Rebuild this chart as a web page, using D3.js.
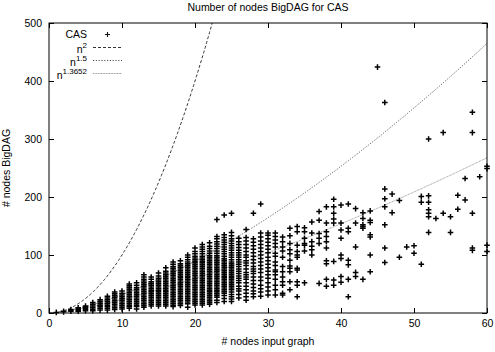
<!DOCTYPE html>
<html>
<head>
<meta charset="utf-8">
<script src="https://cdn.jsdelivr.net/npm/d3@7"></script>
<style>
  body { margin: 0; background: #fff; }
  svg text { font-family: "Liberation Sans", Arial, sans-serif; font-size: 10.5px; fill: #000; }
</style>
</head>
<body>
<div id="chart"></div>
<script>
// CAS measurements: [input graph nodes, [BigDAG node counts]]
const casColumns = [
    [1, [1]],
    [2, [2, 3]],
    [3, [3, 5, 6]],
    [4, [3, 5, 7, 9]],
    [5, [4, 6, 8, 10, 12]],
    [6, [4, 6, 9, 12, 15, 18]],
    [7, [5, 8, 11, 14, 17, 20, 23]],
    [8, [5, 8, 11, 14, 17, 20, 23, 26, 29]],
    [9, [6, 9, 12, 15, 18, 21, 24, 27, 30, 33, 36]],
    [10, [7, 10, 13, 16, 19, 22, 25, 28, 31, 34, 38]],
    [11, [8, 11, 14, 17, 20, 23, 26, 29, 32, 35, 38, 41, 44, 47, 50]],
    [12, [7, 11, 14, 17, 20, 23, 26, 29, 32, 35, 38, 41, 44, 48, 52]],
    [13, [10, 13, 16, 19, 22, 25, 28, 31, 34, 37, 40, 43, 46, 49, 52, 55, 58, 62, 66]],
    [14, [12, 15, 18, 21, 24, 27, 30, 33, 36, 39, 42, 45, 48, 51, 54, 58, 62]],
    [15, [12, 15, 18, 21, 24, 27, 30, 33, 36, 39, 42, 45, 48, 51, 54, 57, 60, 64, 69]],
    [16, [12, 15, 18, 21, 24, 27, 30, 33, 36, 39, 42, 45, 48, 51, 54, 57, 60, 63, 66, 69, 72, 78]],
    [17, [11, 14, 17, 20, 23, 26, 29, 32, 35, 38, 41, 44, 47, 50, 53, 56, 59, 62, 65, 68, 71, 74, 77, 80, 84, 88]],
    [18, [13, 16, 19, 22, 25, 28, 31, 34, 37, 40, 43, 46, 49, 52, 55, 58, 61, 64, 67, 70, 73, 76, 79, 82, 85, 90]],
    [19, [10, 16, 19, 22, 25, 28, 31, 34, 37, 40, 43, 46, 49, 52, 55, 58, 61, 64, 67, 70, 73, 76, 79, 82, 85, 88, 92, 96, 100]],
    [20, [14, 17, 20, 23, 26, 29, 32, 35, 38, 41, 44, 47, 50, 53, 56, 59, 62, 65, 68, 71, 74, 77, 80, 83, 86, 89, 92, 95, 98, 102, 106, 112]],
    [21, [14, 17, 20, 23, 26, 29, 32, 35, 38, 41, 44, 47, 50, 53, 56, 59, 62, 65, 68, 71, 74, 77, 80, 83, 86, 89, 92, 95, 98, 102, 106, 110, 114, 118]],
    [22, [15, 18, 21, 24, 27, 30, 33, 36, 39, 42, 45, 48, 51, 54, 57, 60, 63, 66, 69, 72, 75, 78, 81, 84, 87, 90, 93, 96, 99, 103, 107, 111, 115, 121]],
    [23, [18, 22, 27, 30, 33, 36, 39, 42, 45, 48, 51, 54, 57, 60, 63, 66, 69, 72, 75, 78, 81, 84, 87, 90, 93, 96, 99, 103, 107, 111, 115, 119, 123, 128, 132, 161]],
    [24, [20, 25, 30, 34, 37, 40, 43, 46, 49, 52, 55, 58, 61, 64, 67, 70, 73, 76, 79, 82, 85, 88, 91, 94, 98, 102, 106, 110, 114, 118, 122, 126, 130, 135, 169]],
    [25, [20, 24, 28, 32, 36, 40, 43, 46, 49, 52, 55, 58, 61, 64, 67, 70, 73, 76, 79, 82, 85, 88, 92, 96, 100, 104, 108, 112, 116, 120, 124, 128, 133, 139, 172]],
    [26, [26, 32, 38, 42, 46, 52, 56, 60, 64, 68, 72, 76, 80, 84, 88, 92, 96, 100, 104, 108, 113, 118, 123, 129]],
    [27, [22, 28, 34, 40, 46, 52, 58, 62, 66, 70, 76, 82, 86, 90, 96, 100, 106, 112, 118, 124, 130, 144]],
    [28, [28, 33, 38, 44, 50, 56, 62, 68, 72, 76, 80, 86, 92, 98, 104, 110, 116, 122, 128, 172]],
    [29, [29, 36, 42, 48, 56, 62, 70, 76, 82, 88, 94, 100, 106, 112, 118, 124, 131, 138, 188]],
    [30, [31, 38, 45, 52, 60, 66, 72, 78, 84, 90, 96, 104, 110, 116, 122, 128, 134, 138]],
    [31, [31, 40, 48, 58, 66, 71, 74, 82, 88, 98, 103, 114, 120, 126, 132, 138]],
    [32, [31, 34, 48, 54, 62, 71, 80, 96, 107, 114, 123, 131]],
    [33, [146, 133, 120, 109, 102, 91, 81, 77, 71, 54, 40]],
    [34, [149, 140, 117, 106, 100, 96, 77, 74, 54, 48, 28]],
    [35, [147, 140, 129, 120, 117, 107, 52]],
    [36, [157, 138, 123, 115, 109, 100]],
    [37, [175, 160, 137, 129, 120, 51]],
    [38, [183, 155, 140, 132, 123, 112, 90, 85, 58, 46]],
    [39, [196, 183, 172, 162, 155, 89, 57, 48]],
    [40, [186, 155, 143, 129, 100, 94, 63, 53]],
    [41, [188, 146, 140, 91, 83, 58, 28]],
    [42, [180, 155, 114, 70, 63]],
    [43, [173, 163, 152, 149, 146, 58]],
    [44, [176, 160, 156, 135, 131, 100, 71]],
    [45, [424]],
    [46, [363, 214, 197, 183, 152, 112, 87]],
    [47, [205, 173]],
    [48, [194, 96]],
    [49, [114]],
    [50, [116, 103]],
    [51, [201, 191, 84]],
    [52, [300, 202, 191, 178, 172, 166, 139]],
    [53, [163]],
    [54, [311, 172]],
    [55, [166, 139]],
    [56, [203, 179]],
    [57, [232, 195]],
    [58, [346, 311, 172, 112, 108]],
    [59, [235]],
    [60, [253, 249, 117, 106]]
];

const curveExponents = [2, 1.5, 1.3652];
const curveLabels = ["2", "1.5", "1.3652"];
const xTicks = [0, 10, 20, 30, 40, 50, 60];
const yTicks = [0, 100, 200, 300, 400, 500];

const width = 495, height = 352;
const margin = {left: 49, right: 8, top: 23, bottom: 39};

const svg = d3.select("#chart").append("svg")
    .attr("width", width)
    .attr("height", height);

const x = d3.scaleLinear().domain([0, 60]).range([margin.left, width - margin.right]);
const y = d3.scaleLinear().domain([0, 500]).range([height - margin.bottom, margin.top]);

svg.append("defs").append("clipPath").attr("id", "plot-clip")
    .append("rect")
    .attr("x", x(0)).attr("y", y(500))
    .attr("width", x(60) - x(0)).attr("height", y(0) - y(500));

// curves
const curveStyles = [
    {stroke: "#333", dash: "3,2"},
    {stroke: "#555", dash: "1.2,1.6"},
    {stroke: "#9a9a9a", dash: "1,0.6"}
];
const xs = d3.range(0, 60.01, 0.1);
const line = d3.line().x(d => x(d[0])).y(d => y(d[1]));

svg.append("g")
    .attr("clip-path", "url(#plot-clip)")
    .selectAll("path")
    .data(curveExponents)
    .join("path")
    .attr("fill", "none")
    .attr("stroke", (d, i) => curveStyles[i].stroke)
    .attr("stroke-width", 1)
    .attr("stroke-dasharray", (d, i) => curveStyles[i].dash)
    .attr("d", e => line(xs.map(v => [v, Math.pow(v, e)]).filter(p => p[1] < 560)));

// points
const points = [];
casColumns.forEach(c => c[1].forEach(v => points.push([c[0], v])));

const plus = (px, py, s) => `M${px - s},${py}H${px + s}M${px},${py - s}V${py + s}`;

svg.append("path")
    .attr("fill", "none")
    .attr("stroke", "#000")
    .attr("stroke-width", 1.5)
    .attr("d", points.map(p => plus(x(p[0]), y(p[1]), 2.8)).join(""));

// axes, ticks pointing inward and mirrored
const tickPad = 7;
const bottom = svg.append("g")
    .attr("transform", `translate(0,${y(0)})`)
    .call(d3.axisBottom(x).tickValues(xTicks).tickSizeInner(-5).tickSizeOuter(0).tickPadding(tickPad));
const left = svg.append("g")
    .attr("transform", `translate(${x(0)},0)`)
    .call(d3.axisLeft(y).tickValues(yTicks).tickSizeInner(-5).tickSizeOuter(0).tickPadding(tickPad));
svg.append("g")
    .attr("transform", `translate(0,${y(500)})`)
    .call(d3.axisTop(x).tickValues(xTicks).tickSizeInner(-5).tickSizeOuter(0).tickFormat(""));
svg.append("g")
    .attr("transform", `translate(${x(60)},0)`)
    .call(d3.axisRight(y).tickValues(yTicks).tickSizeInner(-5).tickSizeOuter(0).tickFormat(""));

svg.selectAll(".domain").remove();
svg.selectAll(".tick line").attr("stroke", "#000");
bottom.attr("font-size", null).attr("font-family", null);
left.attr("font-size", null).attr("font-family", null);

svg.append("rect")
    .attr("x", x(0)).attr("y", y(500))
    .attr("width", x(60) - x(0)).attr("height", y(0) - y(500))
    .attr("fill", "none")
    .attr("stroke", "#000")
    .attr("stroke-width", 1);

// title and axis labels
svg.append("text")
    .attr("x", (x(0) + x(60)) / 2).attr("y", 11)
    .attr("text-anchor", "middle")
    .text("Number of nodes BigDAG for CAS");

svg.append("text")
    .attr("x", (x(0) + x(60)) / 2).attr("y", 345)
    .attr("text-anchor", "middle")
    .text("# nodes input graph");

svg.append("text")
    .attr("transform", `translate(10,${(y(0) + y(500)) / 2}) rotate(-90)`)
    .attr("text-anchor", "middle")
    .text("# nodes BigDAG");

// legend
const legendX = 87, sampleX0 = 93, sampleX1 = 122;
const legend = svg.append("g");
legend.append("text")
    .attr("x", legendX).attr("y", 38)
    .attr("text-anchor", "end")
    .text("CAS");
legend.append("path")
    .attr("fill", "none").attr("stroke", "#111").attr("stroke-width", 1.1)
    .attr("d", plus(107.5, 34.5, 2.5));

const rowY = [47, 60, 73];
curveLabels.forEach((lab, i) => {
    const t = legend.append("text")
        .attr("x", legendX).attr("y", rowY[i] + 6)
        .attr("text-anchor", "end");
    t.append("tspan").text("n");
    t.append("tspan").attr("dy", -5).style("font-size", "8px").text(lab);
    legend.append("line")
        .attr("x1", sampleX0).attr("x2", sampleX1)
        .attr("y1", rowY[i] + 0.5).attr("y2", rowY[i] + 0.5)
        .attr("stroke", curveStyles[i].stroke)
        .attr("stroke-dasharray", curveStyles[i].dash);
});
</script>
</body>
</html>
